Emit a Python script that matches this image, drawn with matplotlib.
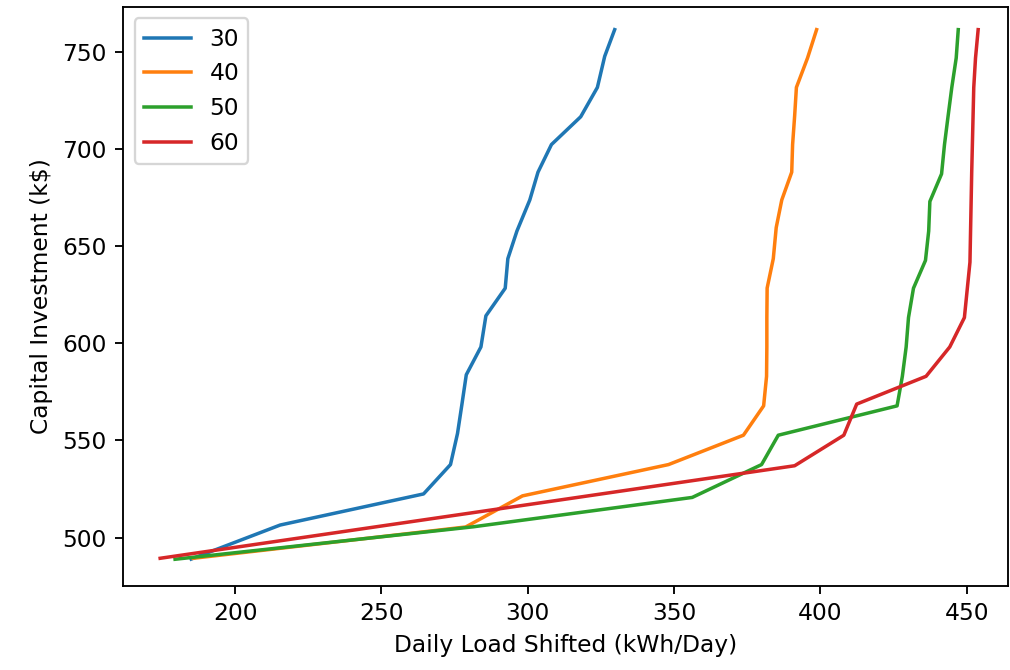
import matplotlib
matplotlib.use("Agg")
import matplotlib.pyplot as plt

# Series: daily load shifted (x) vs capital investment (y)
labels = ["30", "40", "50", "60"]

x30 = [185.0, 215.4, 264.4, 273.6, 276.0, 277.5, 279.0, 284.0, 285.7, 292.3, 293.2,
       296.3, 300.7, 303.5, 308.1, 318.1, 323.8, 326.3, 329.7]
y30 = [489.0, 506.5, 522.5, 537.6, 553.6, 568.5, 583.8, 598.1, 614.1, 628.3, 643.5,
       657.7, 673.7, 688.0, 702.2, 716.5, 731.6, 747.6, 761.3]

x40 = [185.7, 278.8, 298.2, 348.1, 373.7, 380.6, 381.6, 381.7, 381.7, 381.8, 383.9,
       384.9, 386.8, 390.2, 390.5, 391.2, 391.8, 395.6, 398.7]
y40 = [489.4, 505.5, 521.5, 537.6, 552.7, 567.8, 583.0, 598.1, 613.2, 628.4, 643.5,
       659.5, 673.7, 688.0, 702.2, 717.0, 731.6, 746.7, 761.3]

x50 = [179.5, 281.4, 356.2, 379.9, 385.6, 426.2, 428.0, 429.3, 430.1, 431.8, 435.9,
       437.0, 437.4, 441.4, 442.4, 443.6, 444.9, 446.4, 447.1]
y50 = [488.9, 505.6, 520.7, 537.6, 552.7, 567.8, 583.0, 598.1, 613.2, 628.3, 642.6,
       657.7, 672.9, 687.1, 702.2, 716.5, 731.6, 746.7, 761.3]

x60 = [174.4, 391.2, 408.0, 412.4, 436.1, 444.2, 449.2, 451.1, 451.7, 452.4, 453.0, 453.9]
y60 = [489.4, 537.0, 552.7, 568.7, 583.0, 598.1, 613.2, 641.7, 688.0, 731.6, 746.7, 761.3]

colors = ["#1f77b4", "#ff7f0e", "#2ca02c", "#d62728"]

dpi = 168
fig = plt.figure(figsize=(1010 / dpi, 670 / dpi), dpi=dpi)
ax = fig.add_axes([123 / 1010, (670 - 585.7) / 670, 885 / 1010, 579 / 670])

for xs, ys, lab, c in zip([x30, x40, x50, x60], [y30, y40, y50, y60], labels, colors):
    ax.plot(xs, ys, color=c, label=lab)

ax.set_xlim(161.7, 464.1)
ax.set_ylim(475.3, 773.1)
ax.set_xticks([200, 250, 300, 350, 400, 450])
ax.set_yticks([500, 550, 600, 650, 700, 750])
ax.set_xlabel("Daily Load Shifted (kWh/Day)")
ax.set_ylabel("Capital Investment (k$)")
ax.legend(loc="upper left")

fig.savefig("out.png", dpi=dpi)
